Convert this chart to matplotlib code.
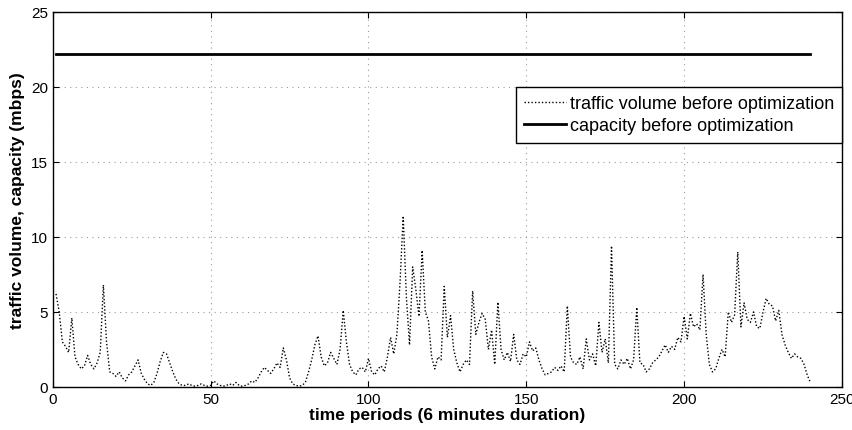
import numpy as np
import matplotlib
matplotlib.use("Agg")
import matplotlib.pyplot as plt

plt.rcParams['font.family'] = ['Liberation Sans', 'DejaVu Sans']

# traffic volume per period, t = 1..240
traffic = [
    6.2, 5.0, 3.0, 2.7, 2.3, 4.6, 2.0, 1.5, 1.2, 1.4,
    2.1, 1.5, 1.2, 1.6, 2.3, 6.8, 3.0, 1.0, 0.9, 0.7,
    1.0, 0.6, 0.4, 0.8, 1.0, 1.4, 1.8, 0.9, 0.5, 0.2,
    0.1, 0.3, 0.9, 1.7, 2.3, 2.2, 1.6, 1.0, 0.5, 0.2,
    0.1, 0.1, 0.2, 0.1, 0.05, 0.1, 0.2, 0.1, 0.05, 0.1,
    0.4, 0.2, 0.1, 0.05, 0.1, 0.2, 0.1, 0.3, 0.1, 0.05,
    0.1, 0.2, 0.4, 0.3, 0.6, 1.0, 1.3, 1.1, 0.9, 1.2,
    1.6, 1.3, 2.6, 1.8, 0.6, 0.2, 0.1, 0.05, 0.1, 0.3,
    1.0, 1.8, 2.8, 3.4, 2.0, 1.4, 1.6, 2.3, 1.9, 1.5,
    2.5, 5.1, 3.0, 1.5, 1.0, 0.8, 1.2, 1.3, 1.0, 1.9,
    1.0, 0.8, 1.2, 1.4, 1.0, 2.0, 3.3, 2.2, 3.5, 7.0,
    11.4, 6.0, 2.8, 8.0, 6.5, 4.7, 9.1, 5.0, 4.4, 2.0,
    1.2, 2.0, 1.8, 6.7, 3.3, 4.75, 2.5, 1.6, 1.0, 1.5,
    1.8, 1.5, 6.4, 3.5, 4.3, 4.9, 4.5, 2.5, 3.8, 1.5,
    5.65, 2.5, 1.8, 2.3, 1.7, 3.5, 1.8, 1.5, 2.2, 2.0,
    3.0, 2.4, 2.6, 1.8, 1.2, 0.8, 0.9, 1.0, 1.3, 1.1,
    1.4, 1.0, 5.4, 2.0, 1.6, 1.5, 2.0, 1.2, 3.2, 1.8,
    2.2, 1.4, 4.3, 2.3, 3.2, 1.6, 9.4, 1.5, 1.2, 1.8,
    1.5, 1.9, 1.2, 1.8, 5.3, 1.6, 1.5, 1.0, 1.2, 1.6,
    1.8, 2.0, 2.4, 2.8, 2.3, 2.7, 2.5, 3.3, 3.0, 4.7,
    3.2, 4.9, 4.0, 4.2, 3.8, 7.5, 3.5, 1.5, 1.0, 1.2,
    1.9, 2.5, 2.0, 5.0, 4.3, 4.8, 9.0, 4.0, 5.6, 4.5,
    4.3, 5.0, 4.0, 3.9, 5.0, 5.9, 5.5, 5.4, 4.4, 5.1,
    3.5, 2.8, 2.3, 1.9, 2.2, 2.0, 1.9, 1.5, 0.8, 0.3,
]
periods = np.arange(1, len(traffic) + 1)
capacity = 22.2

fig = plt.figure(figsize=(8.53, 4.31), dpi=100)
ax = fig.add_axes([0.062, 0.10, 0.925, 0.87])

ax.plot(periods, traffic, linestyle=(0, (1, 1.5)), color='black', linewidth=1.0,
        label='traffic volume before optimization')
ax.plot([periods[0], periods[-1]], [capacity, capacity], '-', color='black',
        linewidth=2.0, label='capacity before optimization')

ax.set_xlim(0, 250)
ax.set_ylim(0, 25)
ax.set_xticks(np.arange(0, 251, 50))
ax.set_yticks(np.arange(0, 26, 5))
ax.grid(True, linestyle=(0, (1, 4)), color='#9a9a9a', linewidth=0.8)
ax.tick_params(direction='in', top=True, right=True, labelsize=11, length=4)
for s in ax.spines.values():
    s.set_linewidth(1.0)

ax.set_xlabel('time periods (6 minutes duration)', fontsize=12.5, fontweight='bold', labelpad=1)
ax.set_ylabel('traffic volume, capacity (mbps)', fontsize=12.5, fontweight='bold', labelpad=4)

leg = ax.legend(loc='upper right', bbox_to_anchor=(1.0, 0.80), borderaxespad=0,
                fontsize=13, fancybox=False, framealpha=1, edgecolor='black',
                handlelength=2.3, handletextpad=0.2, labelspacing=0.3,
                borderpad=0.45)
leg.get_frame().set_linewidth(1.0)

fig.savefig('out.png', dpi=100)
